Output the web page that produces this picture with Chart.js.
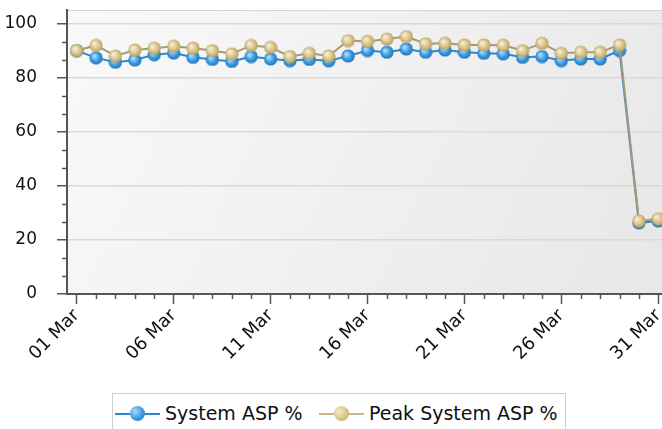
<!DOCTYPE html>
<html lang="en">
<head>
    <meta charset="UTF-8">
    <title>System ASP %</title>
    <script src="https://cdn.jsdelivr.net/npm/chart.js@4.4.0/dist/chart.umd.min.js"></script>
    <style>
        body {
            margin: 0;
            width: 662px;
            height: 429px;
            overflow: hidden;
            background: #fff;
            font-family: 'DejaVu Sans', Verdana, sans-serif;
        }
        /* canvas is a bit wider than the window so the plot runs off the right edge */
        .chart-box {
            position: absolute;
            left: 0;
            top: 0;
            width: 677px;
            height: 392px;
        }
        .legend {
            position: absolute;
            left: 112px;
            top: 393px;
            width: 454px;
            height: 40px;
            border: 1px solid #cfcfcf;
            box-sizing: border-box;
            font-size: 19px;
            color: #111;
            white-space: nowrap;
        }
        .legend span.item {
            position: absolute;
            top: 8px;
        }
        .legend .mark {
            display: inline-block;
            width: 45px;
            height: 15px;
            vertical-align: -1px;
            margin-right: 5px;
            position: relative;
        }
        .legend .mark::before {
            content: '';
            position: absolute;
            left: 0;
            right: 0;
            top: 7px;
            height: 2px;
        }
        .legend .mark::after {
            content: '';
            position: absolute;
            left: 15px;
            top: 0;
            width: 15px;
            height: 15px;
            border-radius: 50%;
        }
        .mark.sys::before { background: #2f86c8; }
        .mark.sys::after { background: radial-gradient(circle at 35% 35%, #a8d8f8, #3a9be0 55%, #1f6fb5); }
        .mark.peak::before { background: #c8b888; }
        .mark.peak::after { background: radial-gradient(circle at 35% 35%, #f6ead0, #d9c48a 55%, #b09a5c); }
    </style>
</head>
<body>
    <div class="chart-box">
        <canvas id="aspChart" width="677" height="392"></canvas>
    </div>
    <div class="legend">
        <span class="item" style="left:2px"><span class="mark sys"></span>System ASP %</span>
        <span class="item" style="left:206px"><span class="mark peak"></span>Peak System ASP %</span>
    </div>

    <script>
        // Data
        const days = ['01 Mar', '02 Mar', '03 Mar', '04 Mar', '05 Mar', '06 Mar', '07 Mar', '08 Mar',
            '09 Mar', '10 Mar', '11 Mar', '12 Mar', '13 Mar', '14 Mar', '15 Mar', '16 Mar', '17 Mar',
            '18 Mar', '19 Mar', '20 Mar', '21 Mar', '22 Mar', '23 Mar', '24 Mar', '25 Mar', '26 Mar',
            '27 Mar', '28 Mar', '29 Mar', '30 Mar', '31 Mar'];
        const systemAsp = [90, 87.3, 85.7, 86.5, 88.5, 89.1, 87.5, 86.7, 86.0, 87.8, 86.9, 86.3, 86.7,
            86.2, 88, 90, 89.4, 90.6, 89.4, 90.2, 89.4, 89, 88.8, 87.5, 87.8, 86.3, 86.9, 86.9, 90, 26.3, 27];
        const peakAsp = [90, 91.9, 88, 90.2, 90.9, 91.6, 90.9, 90, 88.8, 91.9, 91.2, 87.8, 89, 88,
            93.7, 93.4, 94.3, 95.2, 92.5, 92.7, 92.1, 92.1, 92, 90, 92.7, 89, 89.4, 89.4, 92.1, 27, 27.8];
        const yTicks = [0, 20, 40, 60, 80, 100];

        // little shaded ball used as the point marker
        function makeBall(light, mid, dark) {
            const c = document.createElement('canvas');
            c.width = 14;
            c.height = 14;
            const g = c.getContext('2d');
            const grad = g.createRadialGradient(5, 5, 1, 7, 7, 7);
            grad.addColorStop(0, light);
            grad.addColorStop(0.55, mid);
            grad.addColorStop(1, dark);
            g.fillStyle = grad;
            g.beginPath();
            g.arc(7, 7, 6.6, 0, Math.PI * 2);
            g.fill();
            return c;
        }
        const blueBall = makeBall('#a8d8f8', '#3a9be0', '#1f6fb5');
        const tanBall = makeBall('#f6ead0', '#d9c48a', '#b09a5c');

        // plot background, frame and the small minor ticks
        const decor = {
            id: 'decor',
            beforeDraw(chart) {
                const { ctx, chartArea: a } = chart;
                const grad = ctx.createLinearGradient(a.left, a.top, a.right, a.bottom);
                grad.addColorStop(0, '#f9f9f9');
                grad.addColorStop(1, '#e7e7e7');
                ctx.save();
                ctx.fillStyle = grad;
                ctx.fillRect(a.left, a.top, a.right - a.left, a.bottom - a.top);
                ctx.strokeStyle = '#d4d4d4';
                ctx.lineWidth = 1;
                ctx.beginPath();
                ctx.moveTo(a.left, a.top + 0.5);
                ctx.lineTo(a.right, a.top + 0.5);
                ctx.stroke();
                ctx.restore();
            },
            afterDraw(chart) {
                const { ctx, chartArea: a } = chart;
                const x = chart.scales.x, y = chart.scales.y;
                ctx.save();
                ctx.strokeStyle = '#555';
                ctx.lineWidth = 1.5;
                ctx.beginPath();
                for (let v = 0; v <= 100; v += 20 / 3) {
                    if (Math.abs(v / 20 - Math.round(v / 20)) < 0.01) continue;
                    const py = Math.round(y.getPixelForValue(v)) + 0.5;
                    ctx.moveTo(a.left - 5, py);
                    ctx.lineTo(a.left, py);
                }
                days.forEach((d, i) => {
                    if (i % 5 === 0) return;
                    const px = Math.round(x.getPixelForValue(i)) + 0.5;
                    ctx.moveTo(px, a.bottom);
                    ctx.lineTo(px, a.bottom + 5);
                });
                ctx.stroke();
                ctx.restore();
            }
        };

        new Chart(document.getElementById('aspChart'), {
            type: 'line',
            data: {
                labels: days,
                datasets: [
                    {
                        label: 'System ASP %',
                        data: systemAsp,
                        borderColor: '#2f86c8',
                        borderWidth: 2,
                        pointStyle: blueBall,
                        pointRadius: 7,
                        tension: 0,
                        order: 1
                    },
                    {
                        label: 'Peak System ASP %',
                        data: peakAsp,
                        borderColor: '#a39b78',
                        borderWidth: 2,
                        pointStyle: tanBall,
                        pointRadius: 7,
                        tension: 0,
                        order: 0
                    }
                ]
            },
            options: {
                responsive: false,
                animation: false,
                layout: { padding: { top: 0, right: 0, left: 0, bottom: 0 } },
                plugins: {
                    legend: { display: false },
                    tooltip: { enabled: false }
                },
                scales: {
                    x: {
                        offset: true,
                        grid: {
                            offset: false,
                            drawOnChartArea: false,
                            tickLength: 10,
                            tickWidth: 1.5,
                            tickColor: ctx => ctx.index % 5 === 0 ? '#555' : 'rgba(0,0,0,0)'
                        },
                        border: { color: '#555', width: 2 },
                        ticks: {
                            autoSkip: false,
                            minRotation: 45,
                            maxRotation: 45,
                            padding: 1,
                            color: '#111',
                            font: { family: 'DejaVu Sans', size: 18 },
                            callback: (v, i) => i % 5 === 0 ? days[i] : ''
                        },
                        afterFit: s => { s.height = 98; }
                    },
                    y: {
                        min: 0,
                        max: 105,
                        afterBuildTicks: s => { s.ticks = yTicks.map(v => ({ value: v })); },
                        grid: {
                            color: '#d9d9d9',
                            lineWidth: 1.5,
                            tickLength: 10,
                            tickColor: '#555',
                            tickWidth: 1.5
                        },
                        border: { color: '#555', width: 2 },
                        ticks: {
                            padding: 20,
                            color: '#111',
                            font: { family: 'DejaVu Sans', size: 17 }
                        },
                        afterFit: s => {
                            s.width = 67;
                            s.paddingTop = 10;
                            s.paddingBottom = 0;
                        }
                    }
                }
            },
            plugins: [decor]
        });
    </script>
</body>
</html>
